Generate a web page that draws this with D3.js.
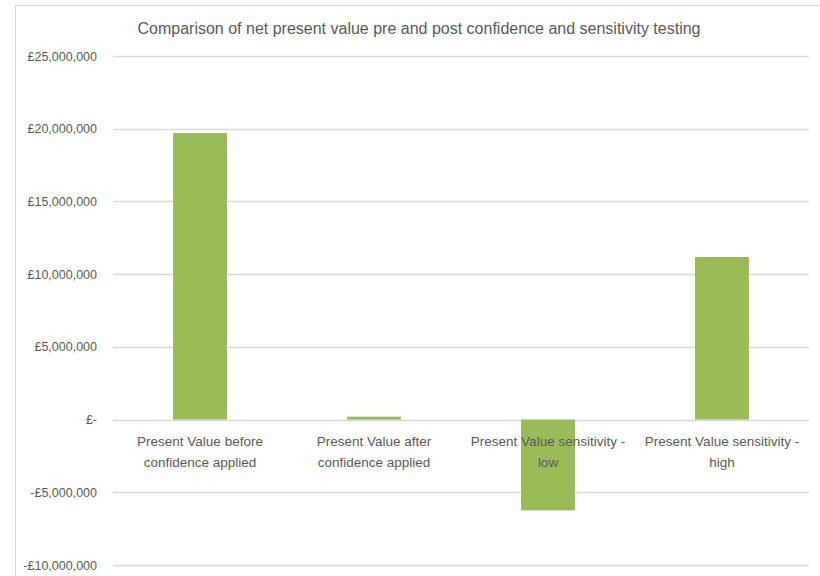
<!DOCTYPE html>
<html>
<head>
<meta charset="utf-8">
<script src="https://cdn.jsdelivr.net/npm/d3@7"></script>
<style>
  body { margin: 0; background: #fff; }
  text { font-family: "Liberation Sans", Arial, sans-serif; fill: #595959; }
</style>
</head>
<body>
<script>
// chart data
var categories = [
  "Present Value before\nconfidence applied",
  "Present Value after\nconfidence applied",
  "Present Value sensitivity -\nlow",
  "Present Value sensitivity -\nhigh"
];
var values = [19700000, 200000, -6240000, 11180000];
var tickValues = [25000000, 20000000, 15000000, 10000000, 5000000, 0, -5000000, -10000000];
var title = "Comparison of net present value pre and post confidence and sensitivity testing";

var svgWidth = 820;
var svgHeight = 576;

var margin = { top: 56, right: 11, bottom: 11, left: 113 };
var width = svgWidth - margin.left - margin.right;
var height = 565 - margin.top;

var svg = d3.select("body")
  .append("svg")
  .attr("width", svgWidth)
  .attr("height", svgHeight);

// chart area border (cut off at the right and bottom)
svg.append("rect")
  .attr("x", 15.5)
  .attr("y", 5.5)
  .attr("width", 900)
  .attr("height", 600)
  .attr("fill", "none")
  .attr("stroke", "#d9d9d9");

svg.append("text")
  .attr("x", 419)
  .attr("y", 34)
  .attr("text-anchor", "middle")
  .style("font-size", "16px")
  .text(title);

var chartGroup = svg.append("g")
  .attr("transform", `translate(${margin.left}, ${margin.top})`);

var xScale = d3.scaleBand()
  .domain(categories)
  .range([0, width])
  .paddingInner(0.69)
  .paddingOuter(0.345);

var yScale = d3.scaleLinear()
  .domain([-10000000, 25000000])
  .range([height, 0]);

// gridlines
chartGroup.append("g")
  .selectAll("line")
  .data(tickValues)
  .enter()
  .append("line")
  .attr("x1", 0)
  .attr("x2", width)
  .attr("y1", d => Math.round(yScale(d)) + 0.5)
  .attr("y2", d => Math.round(yScale(d)) + 0.5)
  .attr("stroke", "#d9d9d9")
  .attr("stroke-width", 1.3);

// y axis labels
var fmt = d3.format(",");
var leftAxis = d3.axisLeft(yScale)
  .tickValues(tickValues)
  .tickSize(0)
  .tickPadding(16)
  .tickFormat(d => d === 0 ? "£-" : (d < 0 ? "-£" + fmt(-d) : "£" + fmt(d)));

var yAxis = chartGroup.append("g").call(leftAxis);
yAxis.select(".domain").remove();
yAxis.selectAll("text")
  .style("font-size", "12.5px")
  .style("font-family", "Liberation Sans, Arial, sans-serif")
  .attr("fill", "#595959");

// bars
chartGroup.selectAll("rect.bar")
  .data(values)
  .enter()
  .append("rect")
  .attr("class", "bar")
  .attr("x", (d, i) => xScale(categories[i]))
  .attr("width", xScale.bandwidth())
  .attr("y", d => yScale(Math.max(0, d)))
  .attr("height", d => Math.abs(yScale(d) - yScale(0)))
  .attr("fill", "#9bbb59");

// category labels below zero line
var labels = chartGroup.append("g")
  .selectAll("text")
  .data(categories)
  .enter()
  .append("text")
  .attr("text-anchor", "middle")
  .attr("transform", d => `translate(${xScale(d) + xScale.bandwidth() / 2}, ${yScale(0) + 26})`)
  .style("font-size", "13.5px");

labels.selectAll("tspan")
  .data(d => d.split("\n"))
  .enter()
  .append("tspan")
  .attr("x", 0)
  .attr("dy", (d, i) => i === 0 ? 0 : 21)
  .text(d => d);
</script>
</body>
</html>
